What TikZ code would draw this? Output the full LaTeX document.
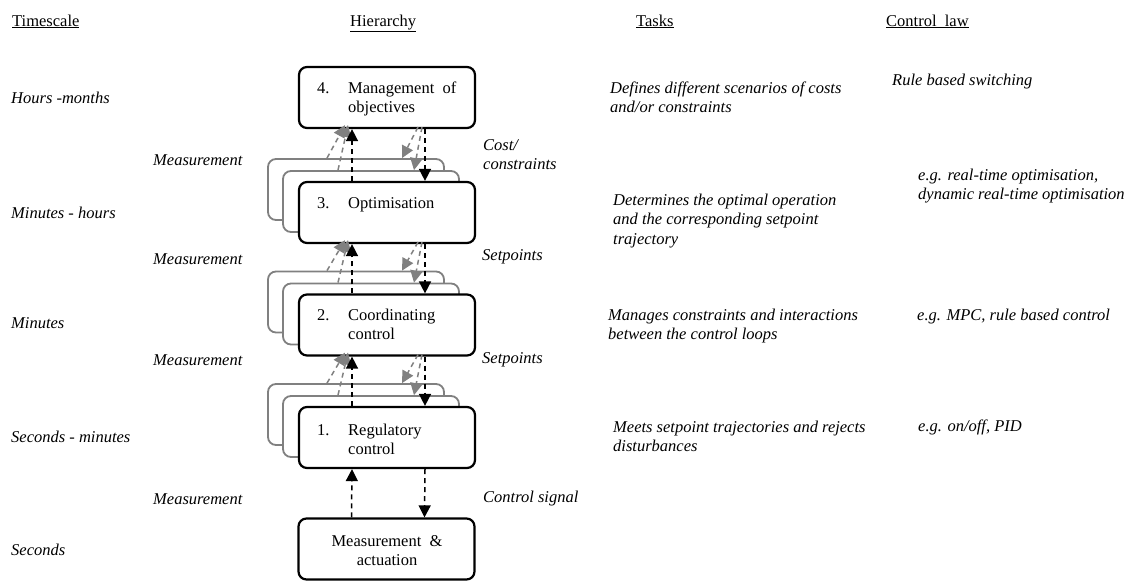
\documentclass[tikz,border=0pt]{standalone}
\usepackage{fontspec}
\setmainfont{Liberation Serif}
\usetikzlibrary{arrows.meta,calc}
\newcommand{\mlines}[1]{\begin{tabular}[t]{@{}l@{}}#1\end{tabular}}
\begin{document}
\begin{tikzpicture}[x=1pt,y=-1pt,
  every node/.style={inner sep=0pt,font=\fontsize{16.5}{19.5}\selectfont},
  txt/.style={anchor=base west},
  itx/.style={anchor=base west,font=\fontsize{16.5}{19.5}\selectfont\itshape},
  mainbox/.style={draw,line width=2.2pt,rounded corners=8pt,fill=white,minimum width=176pt,minimum height=61pt},
  backbox/.style={draw=black!50,line width=1.8pt,rounded corners=8pt,fill=white,minimum width=176pt,minimum height=61pt},
  blk/.style={dash pattern=on 5pt off 4pt,line width=1.5pt,-{Triangle[length=12pt,width=12pt]}},
  gry/.style={draw=black!50,dash pattern=on 5pt off 4pt,line width=1.5pt,-{Triangle[length=12pt,width=12pt]},black!50}]
\useasboundingbox (0,0) rectangle (1132,581);

% headers
\node[txt] (h1) at (12,26) {\underline{Timescale}};
\node[txt] (h2) at (350,26) {\underline{Hierarchy}};
\node[txt] (h3) at (636,26) {\underline{Tasks}};
\node[txt] (h4) at (886,26) {\underline{Control\ \ law}};

% timescales
\node[itx] (ts1) at (11,103) {Hours -months};
\node[itx] (ts2) at (11,218) {Minutes - hours};
\node[itx] (ts3) at (11,328) {Minutes};
\node[itx] (ts4) at (11,442) {Seconds - minutes};
\node[itx] (ts5) at (11,555) {Seconds};

% measurement labels
\node[itx] (m1) at (153,165) {Measurement};
\node[itx] (m2) at (153,264) {Measurement};
\node[itx] (m3) at (153,365) {Measurement};
\node[itx] (m4) at (153,504) {Measurement};

% right-side labels
\node[itx] (c1) at (483,150) {\mlines{Cost/\\constraints}};
\node[itx] (s1) at (482,260) {Setpoints};
\node[itx] (s2) at (482,363) {Setpoints};
\node[itx] (cs) at (483,502) {Control signal};

% tasks
\node[itx] (t4) at (610,93) {\mlines{Defines different scenarios of costs\\and/or constraints}};
\node[itx] (t3) at (613,205) {\mlines{Determines the optimal operation\\and the corresponding setpoint\\trajectory}};
\node[itx] (t2) at (608,320) {\mlines{Manages constraints and interactions\\between the control loops}};
\node[itx] (t1) at (613,432) {\mlines{Meets setpoint trajectories and rejects\\disturbances}};

% control law
\node[itx] (l4) at (892,85) {Rule based switching};
\node[itx] (l3) at (918,180) {\mlines{e.g. real-time optimisation,\\dynamic real-time optimisation}};
\node[itx] (l2) at (917,320) {e.g. MPC, rule based control};
\node[itx] (l1) at (918,431) {e.g. on/off, PID};

% back boxes
\node[backbox] (b3a) at (356,189.5) {};
\node[backbox] (b3b) at (371,201.5) {};
\node[backbox] (b2a) at (356,302) {};
\node[backbox] (b2b) at (371,314) {};
\node[backbox] (b1a) at (356,414.5) {};
\node[backbox] (b1b) at (371,426.5) {};

% main boxes
\node[mainbox] (b4) at (387,97.5) {};
\node[mainbox] (b3) at (387,212.5) {};
\node[mainbox] (b2) at (387,325) {};
\node[mainbox] (b1) at (387,437.5) {};
\node[mainbox] (bm) at (386.5,549) {};

% box texts
\node[txt] (bt4) at (317,93) {\begin{tabular}[t]{@{}p{31pt}@{}l@{}}4. & Management\ \ of\\ & objectives\end{tabular}};
\node[txt] (bt3) at (317,208) {\begin{tabular}[t]{@{}p{31pt}@{}l@{}}3. & Optimisation\end{tabular}};
\node[txt] (bt2) at (317,320) {\begin{tabular}[t]{@{}p{31pt}@{}l@{}}2. & Coordinating\\ & control\end{tabular}};
\node[txt] (bt1) at (317,435) {\begin{tabular}[t]{@{}p{31pt}@{}l@{}}1. & Regulatory\\ & control\end{tabular}};
\node[anchor=base] (btm) at (387,546) {\begin{tabular}[t]{@{}c@{}}Measurement\ \ \&\\actuation\end{tabular}};

% gray arrows (to/from back boxes)
\foreach \up/\lo in {b4/b3,b3/b2,b2/b1}{
  \draw[gry] ([xshift=-29pt]\lo a.north) -- ([xshift=-42pt,yshift=4pt]\up.south);
  \draw[gry] ([xshift=-33pt]\lo b.north) -- ([xshift=-39pt,yshift=4pt]\up.south);
  \draw[gry] ([xshift=31pt,yshift=2pt]\up.south) -- ([xshift=46pt]\lo a.north);
  \draw[gry] ([xshift=35pt,yshift=2pt]\up.south) -- ([xshift=43pt]\lo b.north);
}

% black arrows
\foreach \up/\lo in {b4/b3,b3/b2,b2/b1,b1/bm}{
  \draw[blk] ([xshift=-35pt]\lo.north) -- ([xshift=-35pt]\up.south);
  \draw[blk] ([xshift=38pt]\up.south) -- ([xshift=38pt]\lo.north);
}
\end{tikzpicture}
\end{document}
